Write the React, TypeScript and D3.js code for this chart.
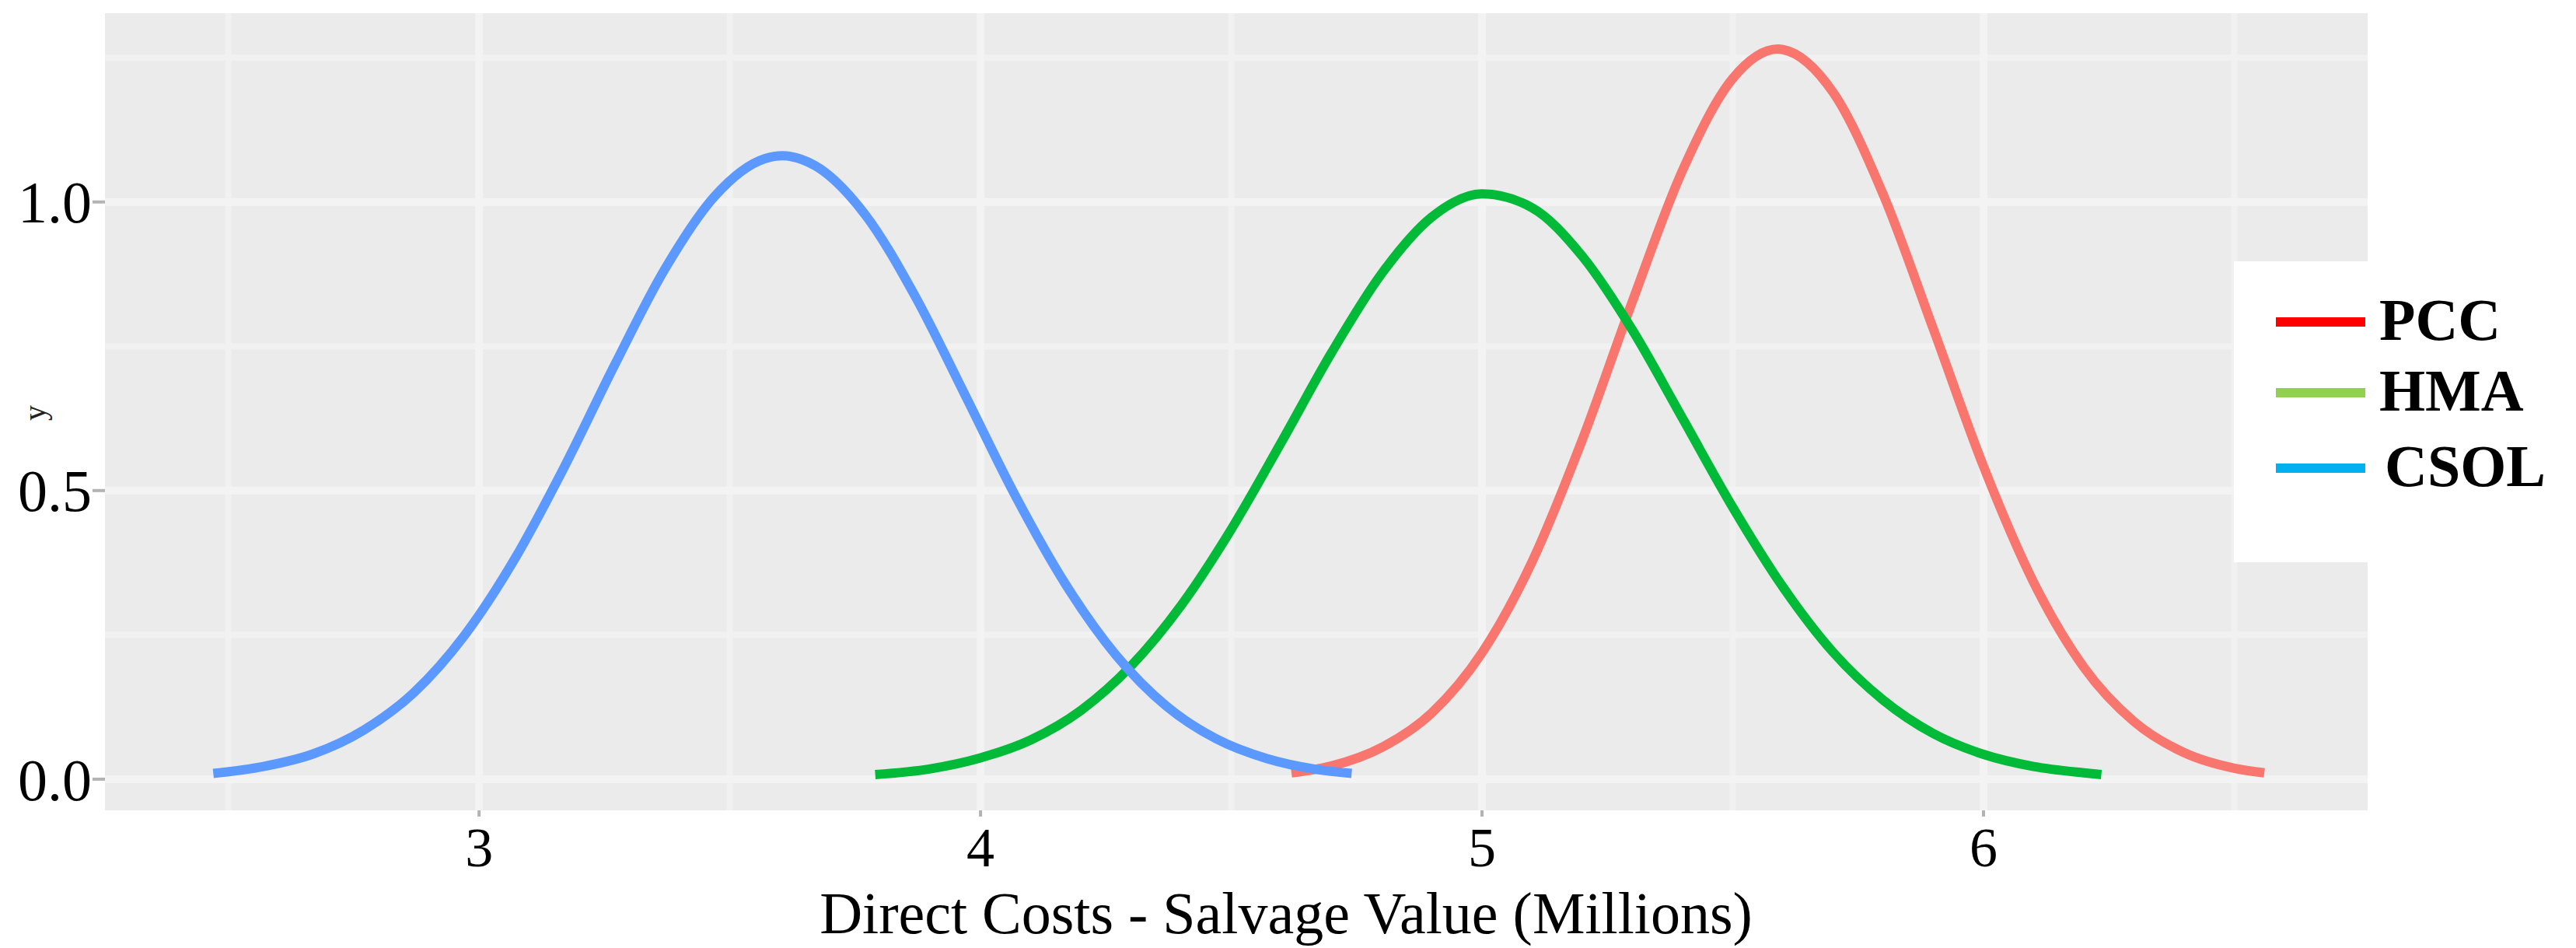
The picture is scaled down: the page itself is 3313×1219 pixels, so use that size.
import * as d3 from 'd3';

type Pt = [number, number];

const seriesNames = ['PCC', 'HMA', 'CSOL'];

// density curves: [x (millions), y]
const pccPoints: Pt[] = [
  [4.62, 0.011], [4.7, 0.023], [4.8, 0.055], [4.9, 0.115], [5.0, 0.219], [5.1, 0.377],
  [5.2, 0.588], [5.3, 0.828], [5.4, 1.055], [5.5, 1.214], [5.59, 1.265], [5.6, 1.264],
  [5.7, 1.19], [5.8, 1.013], [5.9, 0.78], [6.0, 0.542], [6.1, 0.341], [6.2, 0.194],
  [6.3, 0.1], [6.4, 0.046], [6.5, 0.019], [6.56, 0.011],
];

const hmaPoints: Pt[] = [
  [3.79, 0.008], [3.9, 0.018], [4.0, 0.037], [4.1, 0.068], [4.2, 0.119], [4.3, 0.196],
  [4.4, 0.301], [4.5, 0.433], [4.6, 0.584], [4.7, 0.739], [4.8, 0.876], [4.9, 0.974],
  [5.0, 1.014], [5.1, 0.99], [5.2, 0.906], [5.3, 0.778], [5.4, 0.625], [5.5, 0.471],
  [5.6, 0.333], [5.7, 0.22], [5.8, 0.137], [5.9, 0.079], [6.0, 0.043], [6.1, 0.022],
  [6.2, 0.011], [6.235, 0.008],
];

const csolPoints: Pt[] = [
  [2.47, 0.01], [2.57, 0.022], [2.67, 0.044], [2.77, 0.085], [2.87, 0.15], [2.97, 0.248],
  [3.07, 0.38], [3.17, 0.541], [3.27, 0.717], [3.37, 0.883], [3.47, 1.01], [3.57, 1.075],
  [3.605, 1.08], [3.67, 1.063], [3.77, 0.978], [3.87, 0.836], [3.97, 0.664], [4.07, 0.49],
  [4.17, 0.337], [4.27, 0.215], [4.37, 0.127], [4.47, 0.07], [4.57, 0.036], [4.67, 0.017],
  [4.74, 0.01],
];

const xTicks = [3, 4, 5, 6];
const xMinor = [2.5, 3.5, 4.5, 5.5, 6.5];
const yTicks = [0, 0.5, 1.0];
const yMinor = [0.25, 0.75, 1.25];

const lineColors = ['#f8766d', '#00ba38', '#5b98ff'];
const legendColors = ['#ff0000', '#92d050', '#00b0f0'];

export default function App() {
  const width = 3313;
  const height = 1219;
  const panel = { left: 135, right: 3045, top: 17, bottom: 1042 };

  const x = d3.scaleLinear().domain([2.254, 6.766]).range([panel.left, panel.right]);
  const y = d3.scaleLinear().domain([-0.054, 1.327]).range([panel.bottom, panel.top]);

  const line = d3
    .line<Pt>()
    .x((d) => x(d[0]))
    .y((d) => y(d[1]))
    .curve(d3.curveMonotoneX);

  const allSeries = [pccPoints, hmaPoints, csolPoints];
  const serif = '"Liberation Serif", "Times New Roman", serif';

  return (
    <div style={{ position: 'absolute', left: 0, top: 0 }}>
      <svg width={width} height={height} viewBox={`0 0 ${width} ${height}`} style={{ display: 'block', background: '#fff' }}>
        <rect x={panel.left} y={panel.top} width={panel.right - panel.left} height={panel.bottom - panel.top} fill="#ebebeb" />
        {xMinor.map((t) => (
          <line key={`xm${t}`} x1={x(t)} x2={x(t)} y1={panel.top} y2={panel.bottom} stroke="#f1f1f1" strokeWidth={8} />
        ))}
        {yMinor.map((t) => (
          <line key={`ym${t}`} x1={panel.left} x2={panel.right} y1={y(t)} y2={y(t)} stroke="#f1f1f1" strokeWidth={8} />
        ))}
        {xTicks.map((t) => (
          <line key={`xg${t}`} x1={x(t)} x2={x(t)} y1={panel.top} y2={panel.bottom} stroke="#f3f3f3" strokeWidth={10} />
        ))}
        {yTicks.map((t) => (
          <line key={`yg${t}`} x1={panel.left} x2={panel.right} y1={y(t)} y2={y(t)} stroke="#f3f3f3" strokeWidth={10} />
        ))}

        {allSeries.map((pts, i) => (
          <path key={seriesNames[i]} d={line(pts) ?? ''} fill="none" stroke={lineColors[i]} strokeWidth={12} strokeLinejoin="round" />
        ))}

        {/* axes */}
        {xTicks.map((t) => (
          <g key={`xt${t}`}>
            <line x1={x(t)} x2={x(t)} y1={panel.bottom} y2={panel.bottom + 8} stroke="#b3b3b3" strokeWidth={4} />
            <text x={x(t)} y={1114} textAnchor="middle" fontSize={72} fontFamily={serif} fill="#000">
              {t}
            </text>
          </g>
        ))}
        {yTicks.map((t) => (
          <g key={`yt${t}`}>
            <line x1={panel.left - 16} x2={panel.left} y1={y(t)} y2={y(t)} stroke="#b3b3b3" strokeWidth={4} />
            <text x={118} y={y(t)} dy="0.35em" textAnchor="end" fontSize={76} fontFamily={serif} fill="#000">
              {t.toFixed(1)}
            </text>
          </g>
        ))}
        <text x={1654} y={1200} textAnchor="middle" fontSize={76} fontFamily={serif} fill="#000">
          Direct Costs - Salvage Value (Millions)
        </text>
        <text transform="translate(58,531) rotate(-90)" textAnchor="middle" fontSize={40} fontFamily={serif} fill="#222">
          y
        </text>

        {/* legend */}
        <rect x={2873} y={336} width={width - 2873} height={387} fill="#fff" />
        {seriesNames.map((name, i) => {
          const cy = [414, 505, 602][i];
          return (
            <g key={`lg${name}`}>
              <line x1={2927} x2={3042} y1={cy} y2={cy} stroke={legendColors[i]} strokeWidth={12} />
              <text x={name === 'CSOL' ? 3067 : 3060} y={cy + 23} fontSize={76} fontWeight="bold" fontFamily={serif} fill="#000">
                {name}
              </text>
            </g>
          );
        })}
      </svg>
    </div>
  );
}
